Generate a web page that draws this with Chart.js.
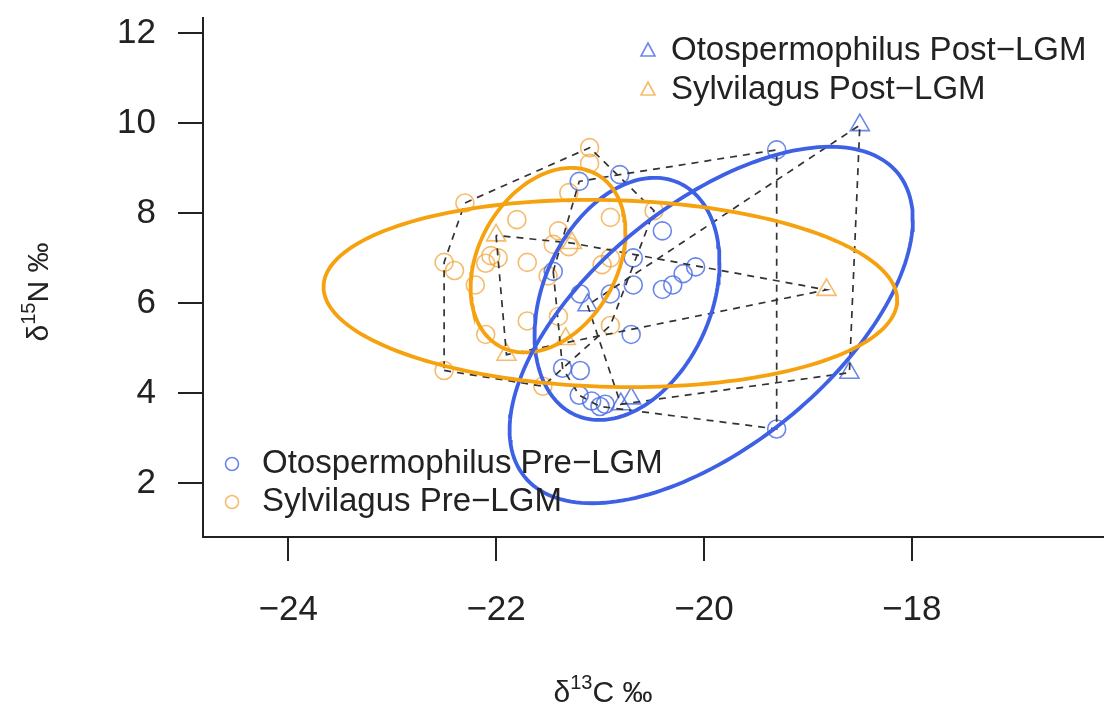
<!DOCTYPE html>
<html>
<head>
<meta charset="utf-8">
<script src="https://cdn.jsdelivr.net/npm/chart.js@4.4.1/dist/chart.umd.min.js"></script>
<style>
  html, body { margin: 0; padding: 0; background: #fff; }
  #wrap { width: 1105px; height: 721px; }
</style>
</head>
<body>
<div id="wrap"><canvas id="isoChart" width="1105" height="721"></canvas></div>
<script>
// d13C / d15N values
const otoPreX = [-19.3, -19.3, -20.81, -21.2, -20.4, -20.68, -20.4, -20.3, -20.2, -20.08, -20.68,
                 -21.19, -20.9, -20.7, -21.45, -21.19, -21.36, -21.2, -21.08, -21.0, -20.95];
const otoPreY = [9.4, 3.2, 8.85, 8.7, 7.6, 7.0, 6.3, 6.4, 6.65, 6.8, 6.4,
                 6.2, 6.2, 5.3, 6.7, 4.5, 4.55, 3.95, 3.82, 3.7, 3.75];

const otoPostX = [-18.5, -18.6, -21.12, -20.7, -20.8];
const otoPostY = [9.95, 4.45, 5.95, 3.88, 3.75];

const sylPreX = [-21.1, -21.1, -22.3, -21.3, -21.8, -20.9, -20.48, -21.4, -21.45, -21.3, -22.5, -22.4, -22.2,
                 -22.05, -21.98, -22.1, -21.7, -20.9, -20.98, -21.7, -21.4, -22.1, -20.9, -22.5, -21.55, -21.5];
const sylPreY = [9.45, 9.1, 8.22, 8.45, 7.85, 7.9, 8.05, 7.6, 7.3, 7.25, 6.9, 6.72, 6.4,
                 7.05, 7.0, 6.88, 6.9, 7.0, 6.85, 5.6, 5.7, 5.3, 5.5, 4.5, 4.15, 6.6];

const sylPostX = [-22.0, -21.9, -18.82, -21.27, -21.33];
const sylPostY = [7.5, 4.85, 6.29, 7.33, 5.2];

// standard ellipses: [centre x, centre y, half-width x, half-height y, correlation]
const otoPreEll  = [-20.74, 6.09, 0.89, 2.69, 0.30];
const otoPostEll = [-19.93, 5.51, 1.94, 3.96, 0.59];
const sylPreEll  = [-21.50, 6.95, 0.745, 2.05, 0.30];
const sylPostEll = [-20.90, 6.21, 2.76, 2.08, -0.07];

const xTicks = [-24, -22, -20, -18];
const yTicks = [2, 4, 6, 8, 10, 12];

const legendTop = ['Otospermophilus Post\u2212LGM', 'Sylvilagus Post\u2212LGM'];
const legendBottom = ['Otospermophilus Pre\u2212LGM', 'Sylvilagus Pre\u2212LGM'];

const BLUE_PT = 'rgba(70,105,225,0.8)';
const ORANGE_PT = 'rgba(240,160,45,0.7)';
const BLUE_ELL = '#3d60e4';
const ORANGE_ELL = '#f6a10e';
const FONT = '"Liberation Sans", Arial, Helvetica, sans-serif';

function toPoints(xs, ys) {
  return xs.map((x, i) => ({ x, y: ys[i] }));
}

function convexHull(xs, ys) {
  const pts = toPoints(xs, ys).sort((a, b) => a.x - b.x || a.y - b.y);
  const cross = (o, a, b) => (a.x - o.x) * (b.y - o.y) - (a.y - o.y) * (b.x - o.x);
  const lower = [];
  pts.forEach(p => {
    while (lower.length >= 2 && cross(lower[lower.length - 2], lower[lower.length - 1], p) <= 0) lower.pop();
    lower.push(p);
  });
  const upper = [];
  pts.slice().reverse().forEach(p => {
    while (upper.length >= 2 && cross(upper[upper.length - 2], upper[upper.length - 1], p) <= 0) upper.pop();
    upper.push(p);
  });
  lower.pop();
  upper.pop();
  const h = lower.concat(upper);
  h.push(h[0]);
  return h;
}

function ellipse(e) {
  const [cx, cy, sx, sy, rho] = e;
  const out = [];
  const k = Math.sqrt(1 - rho * rho);
  for (let i = 0; i <= 180; i++) {
    const t = (i / 180) * Math.PI * 2;
    out.push({ x: cx + sx * Math.cos(t), y: cy + sy * (rho * Math.cos(t) + k * Math.sin(t)) });
  }
  return out;
}

function pointSet(xs, ys, color, style, r) {
  return {
    data: toPoints(xs, ys), order: 3,
    pointStyle: style, pointRadius: r, pointBorderWidth: 1.6,
    borderColor: color, backgroundColor: 'rgba(0,0,0,0)', showLine: false
  };
}

function hullSet(xs, ys) {
  return {
    data: convexHull(xs, ys), order: 2, showLine: true,
    borderColor: '#333', borderWidth: 1.7, borderDash: [7, 6],
    pointRadius: 0, fill: false, tension: 0
  };
}

function ellSet(e, color) {
  return {
    data: ellipse(e), order: 1, showLine: true,
    borderColor: color, borderWidth: 3.8,
    pointRadius: 0, fill: false, tension: 0
  };
}

const fmt = v => (v < 0 ? '\u2212' + Math.abs(v) : String(v));

function drawTitle(ctx, x, y, base, sup, rest) {
  ctx.font = '30px ' + FONT;
  const w1 = ctx.measureText(base).width;
  const w3 = ctx.measureText(rest).width;
  ctx.font = '20px ' + FONT;
  const w2 = ctx.measureText(sup).width;
  let cx = x - (w1 + w2 + w3) / 2;
  ctx.textAlign = 'left';
  ctx.textBaseline = 'alphabetic';
  ctx.font = '30px ' + FONT;
  ctx.fillText(base, cx, y);
  cx += w1;
  ctx.font = '20px ' + FONT;
  ctx.fillText(sup, cx, y - 13);
  cx += w2;
  ctx.font = '30px ' + FONT;
  ctx.fillText(rest, cx, y);
}

const extrasPlugin = {
  id: 'extras',
  afterDraw(chart) {
    const ctx = chart.ctx;
    ctx.save();
    ctx.fillStyle = '#222';
    drawTitle(ctx, 603, 702, '\u03b4', '13', 'C \u2030');
    ctx.save();
    ctx.translate(48, 292);
    ctx.rotate(-Math.PI / 2);
    drawTitle(ctx, 0, 0, '\u03b4', '15', 'N \u2030');
    ctx.restore();

    // legends
    ctx.font = '33px ' + FONT;
    ctx.textBaseline = 'middle';
    ctx.textAlign = 'left';
    const colors = [BLUE_PT, ORANGE_PT];
    legendTop.forEach((label, i) => {
      const y = 51 + i * 39;
      ctx.strokeStyle = colors[i];
      ctx.lineWidth = 1.6;
      ctx.beginPath();
      ctx.moveTo(648, y - 8);
      ctx.lineTo(655, y + 5);
      ctx.lineTo(641, y + 5);
      ctx.closePath();
      ctx.stroke();
      ctx.fillStyle = '#222';
      ctx.fillText(label, 671, y);
    });
    legendBottom.forEach((label, i) => {
      const y = 464 + i * 38;
      ctx.strokeStyle = colors[i];
      ctx.lineWidth = 1.6;
      ctx.beginPath();
      ctx.arc(232, y, 6.5, 0, Math.PI * 2);
      ctx.stroke();
      ctx.fillStyle = '#222';
      ctx.fillText(label, 262, y);
    });
    ctx.restore();
  }
};

new Chart(document.getElementById('isoChart'), {
  type: 'scatter',
  data: {
    datasets: [
      ellSet(sylPostEll, ORANGE_ELL),
      ellSet(otoPostEll, BLUE_ELL),
      ellSet(sylPreEll, ORANGE_ELL),
      ellSet(otoPreEll, BLUE_ELL),
      hullSet(otoPreX, otoPreY),
      hullSet(otoPostX, otoPostY),
      hullSet(sylPreX, sylPreY),
      hullSet(sylPostX, sylPostY),
      pointSet(otoPreX, otoPreY, BLUE_PT, 'circle', 9),
      pointSet(sylPreX, sylPreY, ORANGE_PT, 'circle', 9),
      pointSet(otoPostX, otoPostY, BLUE_PT, 'triangle', 11),
      pointSet(sylPostX, sylPostY, ORANGE_PT, 'triangle', 11)
    ]
  },
  options: {
    responsive: false,
    animation: false,
    layout: { autoPadding: false, padding: { left: 0, right: 2, top: 18, bottom: 0 } },
    plugins: { legend: { display: false }, tooltip: { enabled: false } },
    scales: {
      x: {
        type: 'linear', min: -24.82, max: -16.16,
        afterBuildTicks: s => { s.ticks = xTicks.map(v => ({ value: v })); },
        afterFit: s => { s.height = 184; s.paddingLeft = 0; s.paddingRight = 0; },
        grid: { drawOnChartArea: false, drawTicks: true, tickLength: 24, color: '#222', lineWidth: 2 },
        border: { display: true, color: '#222', width: 2 },
        ticks: { callback: fmt, color: '#222', padding: 28, maxRotation: 0, font: { family: FONT, size: 35 } }
      },
      y: {
        type: 'linear', min: 0.8, max: 12.33,
        afterBuildTicks: s => { s.ticks = yTicks.map(v => ({ value: v })); },
        afterFit: s => { s.width = 203; s.paddingTop = 0; s.paddingBottom = 0; },
        grid: { drawOnChartArea: false, drawTicks: true, tickLength: 25, color: '#222', lineWidth: 2 },
        border: { display: true, color: '#222', width: 2 },
        ticks: { callback: fmt, color: '#222', padding: 22, font: { family: FONT, size: 35 } }
      }
    }
  },
  plugins: [extrasPlugin]
});
</script>
</body>
</html>
